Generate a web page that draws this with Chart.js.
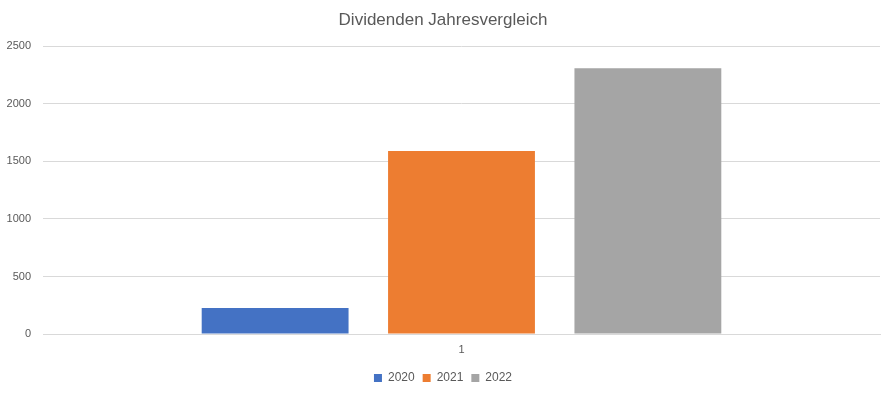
<!DOCTYPE html>
<html lang="de">
<head>
    <meta charset="UTF-8">
    <title>Dividenden Jahresvergleich</title>
    <script src="https://cdn.jsdelivr.net/npm/chart.js"></script>
    <style>
        html, body { margin: 0; padding: 0; background: #fff; }
        #wrap { width: 893px; height: 395px; position: relative; }
    </style>
</head>
<body>
    <div id="wrap"><canvas id="chart"></canvas></div>

    <script>
        const categories = ['1'];
        const years = ['2020', '2021', '2022'];
        const values2020 = [226];
        const values2021 = [1590];
        const values2022 = [2310];
        const colors = ['#4472c4', '#ed7d31', '#a5a5a5'];
        const yTicks = [0, 500, 1000, 1500, 2000, 2500];

        Chart.defaults.font.family = '"Liberation Sans", Arial, sans-serif';
        Chart.defaults.color = '#595959';

        const seriesValues = [values2020, values2021, values2022];

        new Chart(document.getElementById('chart'), {
            type: 'bar',
            data: {
                labels: categories,
                datasets: years.map((y, i) => ({
                    label: y,
                    data: seriesValues[i],
                    backgroundColor: colors[i],
                    borderWidth: 0,
                    categoryPercentage: 0.668,
                    barPercentage: 0.788
                }))
            },
            options: {
                responsive: true,
                maintainAspectRatio: false,
                animation: false,
                layout: { padding: { left: 6, right: 13, top: 8, bottom: 1 } },
                plugins: {
                    title: {
                        display: true,
                        text: 'Dividenden Jahresvergleich',
                        font: { size: 17, weight: 'normal' },
                        color: '#595959',
                        padding: { top: 2, bottom: 16 }
                    },
                    legend: {
                        position: 'bottom',
                        labels: {
                            boxWidth: 8,
                            boxHeight: 8,
                            font: { size: 12 },
                            padding: 8
                        }
                    },
                    tooltip: { enabled: false }
                },
                scales: {
                    x: {
                        grid: { display: false },
                        border: { display: true, color: '#d9d9d9' },
                        ticks: { font: { size: 11 }, padding: 1 },
                        afterFit: axis => { axis.height = 30; }
                    },
                    y: {
                        min: 0,
                        max: 2500,
                        afterBuildTicks: axis => { axis.ticks = yTicks.map(v => ({ value: v })); },
                        afterFit: axis => { axis.width = 37; },
                        grid: { color: '#d9d9d9', drawTicks: false },
                        border: { display: false },
                        ticks: { font: { size: 11 }, padding: 12, callback: v => String(v) }
                    }
                }
            }
        });
    </script>
</body>
</html>
